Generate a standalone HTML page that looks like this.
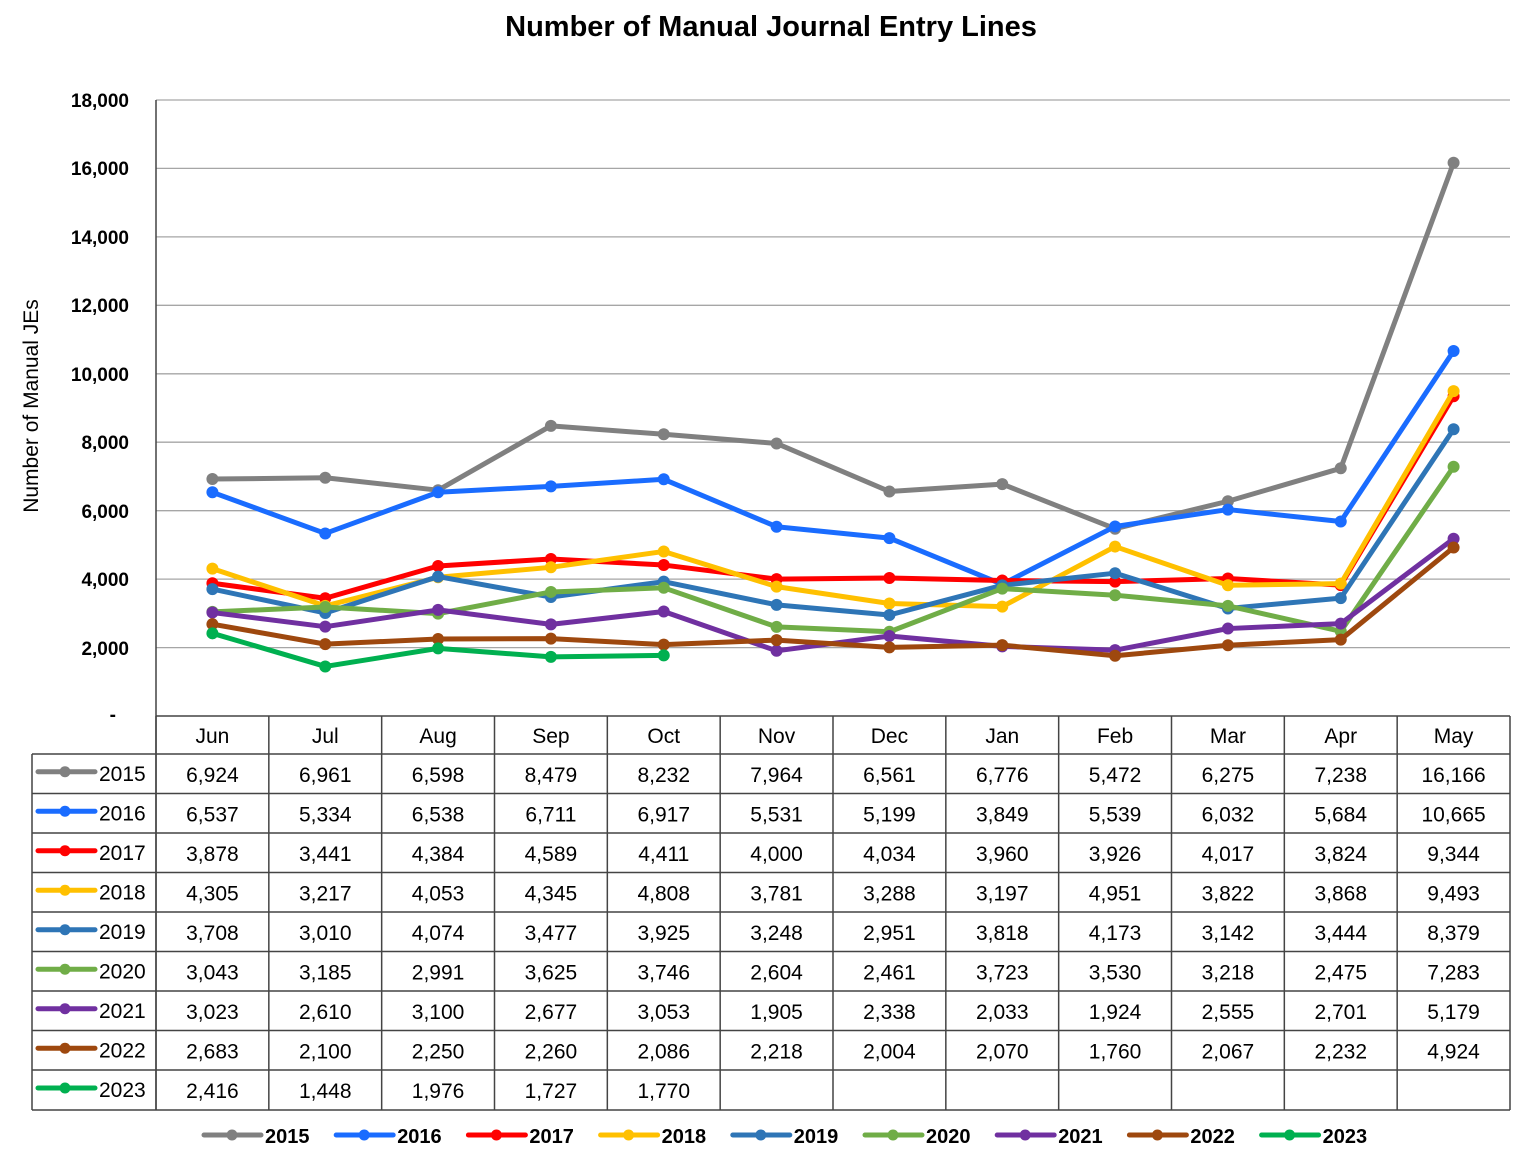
<!DOCTYPE html><html><head><style>body{margin:0;background:#fff}</style></head><body>
<svg width="1524" height="1153" xmlns="http://www.w3.org/2000/svg" font-family="'Liberation Sans',sans-serif">
<text x="771" y="36" text-anchor="middle" font-size="29" font-weight="bold">Number of Manual Journal Entry Lines</text>
<g stroke="#a6a6a6" stroke-width="1.3">
<line x1="156" x2="1510" y1="100" y2="100"/><line x1="156" x2="1510" y1="168.4" y2="168.4"/><line x1="156" x2="1510" y1="236.9" y2="236.9"/><line x1="156" x2="1510" y1="305.3" y2="305.3"/><line x1="156" x2="1510" y1="373.8" y2="373.8"/><line x1="156" x2="1510" y1="442.2" y2="442.2"/><line x1="156" x2="1510" y1="510.7" y2="510.7"/><line x1="156" x2="1510" y1="579.1" y2="579.1"/><line x1="156" x2="1510" y1="647.6" y2="647.6"/>
</g>
<g font-size="19" font-weight="bold" text-anchor="end">
<text x="129" y="107">18,000</text><text x="129" y="175">16,000</text><text x="129" y="244">14,000</text><text x="129" y="312">12,000</text><text x="129" y="381">10,000</text><text x="129" y="449">8,000</text><text x="129" y="518">6,000</text><text x="129" y="586">4,000</text><text x="129" y="655">2,000</text><text x="116" y="721">-</text>
</g>
<text transform="translate(38,406) rotate(-90)" text-anchor="middle" font-size="21">Number of Manual JEs</text>
<g id="lines" fill="none" stroke-width="5" stroke-linejoin="round"></g>
<g id="table" stroke="#444" stroke-width="1.5" fill="none"></g>
<g id="txt" font-size="21" text-anchor="middle"></g>
<g id="leg" font-size="20" font-weight="bold"></g>
</svg>
<script>
const ns="http://www.w3.org/2000/svg";
const months=["Jun","Jul","Aug","Sep","Oct","Nov","Dec","Jan","Feb","Mar","Apr","May"];
const S=[["2015","#808080",[6924,6961,6598,8479,8232,7964,6561,6776,5472,6275,7238,16166]],
["2016","#1a6cff",[6537,5334,6538,6711,6917,5531,5199,3849,5539,6032,5684,10665]],
["2017","#ff0000",[3878,3441,4384,4589,4411,4000,4034,3960,3926,4017,3824,9344]],
["2018","#ffc000",[4305,3217,4053,4345,4808,3781,3288,3197,4951,3822,3868,9493]],
["2019","#2e75b6",[3708,3010,4074,3477,3925,3248,2951,3818,4173,3142,3444,8379]],
["2020","#70ad47",[3043,3185,2991,3625,3746,2604,2461,3723,3530,3218,2475,7283]],
["2021","#7030a0",[3023,2610,3100,2677,3053,1905,2338,2033,1924,2555,2701,5179]],
["2022","#9e480e",[2683,2100,2250,2260,2086,2218,2004,2070,1760,2067,2232,4924]],
["2023","#00b050",[2416,1448,1976,1727,1770]]];
const cw=(1510-156)/12,X=i=>156+cw*(i+0.5),Y=v=>716-v*616/18000;
function el(t,a,p,txt){const e=document.createElementNS(ns,t);for(const k in a)e.setAttribute(k,a[k]);if(txt!=null)e.textContent=txt;p.appendChild(e);return e}
const L=document.getElementById("lines"),T=document.getElementById("table"),TX=document.getElementById("txt"),LG=document.getElementById("leg");
S.forEach(s=>{el("polyline",{points:s[2].map((v,i)=>X(i)+","+Y(v)).join(" "),stroke:s[1]},L);
s[2].forEach((v,i)=>el("circle",{cx:X(i),cy:Y(v),r:6,fill:s[1],stroke:"none"},L));});
const rows=[716,754,793.5,833,872.5,912,951.5,991,1030.5,1070,1110];
el("line",{x1:156,x2:156,y1:100,y2:1110},T);
for(let i=0;i<=12;i++)el("line",{x1:156+cw*i,x2:156+cw*i,y1:716,y2:1110},T);
el("line",{x1:156,x2:1510,y1:716,y2:716},T);
rows.slice(1).forEach(y=>el("line",{x1:32,x2:1510,y1:y,y2:y},T));
el("line",{x1:32,x2:32,y1:754,y2:1110},T);
months.forEach((m,i)=>el("text",{x:X(i),y:743},TX,m));
S.forEach((s,r)=>{const cy=(rows[r+1]+rows[r+2])/2;
el("line",{x1:38,x2:95,y1:cy-2,y2:cy-2,stroke:s[1],"stroke-width":5,"stroke-linecap":"round"},TX);
el("circle",{cx:65,cy:cy-2,r:5.5,fill:s[1]},TX);
el("text",{x:99,y:cy+7,"text-anchor":"start"},TX,s[0]);
s[2].forEach((v,i)=>el("text",{x:X(i),y:cy+8},TX,v.toLocaleString("en-US")));});
S.forEach((s,k)=>{const x0=204+k*132.2;
el("line",{x1:x0,x2:x0+57,y1:1135,y2:1135,stroke:s[1],"stroke-width":5,"stroke-linecap":"round"},LG);
el("circle",{cx:x0+28,cy:1135,r:5.5,fill:s[1]},LG);
el("text",{x:x0+61,y:1143},LG,s[0]);});
</script>
</body></html>
